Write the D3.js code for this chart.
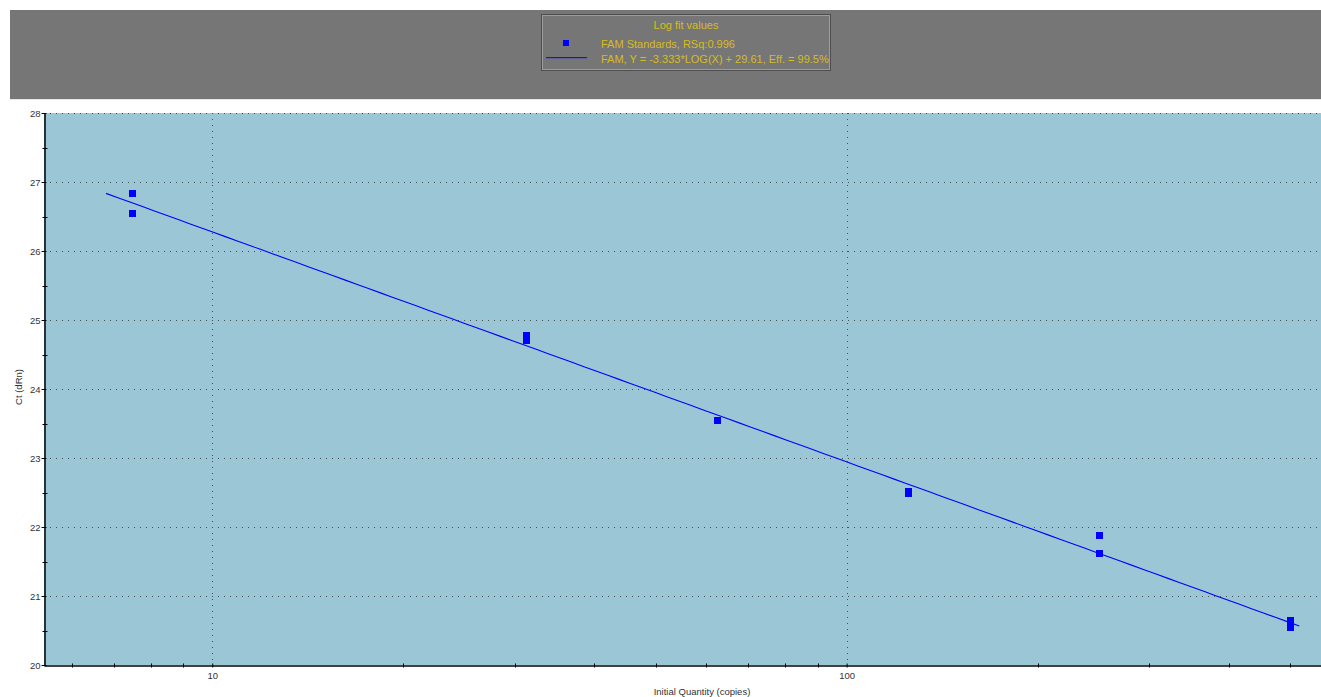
<!DOCTYPE html>
<html>
<head>
<meta charset="utf-8">
<script src="https://cdn.jsdelivr.net/npm/d3@7"></script>
<style>
  html, body { margin: 0; padding: 0; background: #ffffff; }
  svg { display: block; font-family: "Liberation Sans", Arial, sans-serif; }
</style>
</head>
<body>
<svg id="chart" width="1321" height="697"></svg>
<script>
// Standard curve: initial quantity (copies) vs. Ct
const quantities = [7.5, 7.5, 31.25, 31.25, 62.5, 125, 125, 250, 250, 500, 500];
const ctValues   = [26.84, 26.54, 24.78, 24.70, 23.55, 22.51, 22.48, 21.87, 21.61, 20.65, 20.55];

// Log fit: Y = slope*LOG(X) + intercept
const fitSlope = -3.333;
const fitIntercept = 29.61;
const fitRange = [6.8, 517];

const xDomain = [5.43, 559.5];
const yDomain = [20, 28];
const yTicks = [20, 21, 22, 23, 24, 25, 26, 27, 28];
const yMinorTicks = [20.5, 21.5, 22.5, 23.5, 24.5, 25.5, 26.5, 27.5];
const xLabelTicks = [10, 100];
const xMinorTicks = [6, 7, 8, 9, 20, 30, 40, 50, 60, 70, 80, 90, 200, 300, 400, 500];

const legendTitle = "Log fit values";
const legendSeries = "FAM Standards, RSq:0.996";
const legendFit = "FAM, Y = -3.333*LOG(X) + 29.61, Eff. = 99.5%";

const svg = d3.select("#chart");
const W = 1321;

const plot = { left: 44, top: 113, right: 1321, bottom: 665 };

const x = d3.scaleLog().domain(xDomain).range([plot.left, plot.right]);
const y = d3.scaleLinear().domain(yDomain).range([plot.bottom, plot.top]);

// Header band
svg.append("rect").attr("x", 10).attr("y", 10).attr("width", W - 10).attr("height", 89)
  .attr("fill", "#767676");
svg.append("line").attr("x1", 10).attr("x2", W).attr("y1", 99.5).attr("y2", 99.5)
  .attr("stroke", "#e8e8e8").attr("stroke-width", 1);

// Legend box
const lg = svg.append("g");
lg.append("rect").attr("x", 541.5).attr("y", 14.5).attr("width", 289).attr("height", 56)
  .attr("fill", "#767676").attr("stroke", "#4e4e4e");
lg.append("rect").attr("x", 542.5).attr("y", 15.5).attr("width", 287).attr("height", 54)
  .attr("fill", "none").attr("stroke", "#9c9c9c");
lg.append("text").attr("x", 686).attr("y", 29).attr("text-anchor", "middle")
  .attr("font-size", 11).attr("fill", "#d6bd1a").text(legendTitle);
lg.append("rect").attr("x", 563).attr("y", 40).attr("width", 6).attr("height", 6).attr("fill", "#0000ff");
lg.append("rect").attr("x", 546).attr("y", 57).attr("width", 41).attr("height", 1.2)
  .attr("fill", "#1010ff");
lg.append("text").attr("x", 601).attr("y", 47.5).attr("font-size", 11).attr("fill", "#d6bd1a").text(legendSeries);
lg.append("text").attr("x", 601).attr("y", 63).attr("font-size", 11).attr("fill", "#d6bd1a").text(legendFit);

// Plot background
svg.append("rect").attr("x", plot.left).attr("y", plot.top)
  .attr("width", plot.right - plot.left).attr("height", plot.bottom - plot.top)
  .attr("fill", "#9ac6d5");

// Dotted grid
const grid = svg.append("g").attr("stroke", "#333").attr("stroke-width", 1)
  .attr("stroke-dasharray", "1,5").attr("opacity", 0.8);
yTicks.filter(v => v > yDomain[0]).forEach(v => {
  grid.append("line").attr("x1", plot.left).attr("x2", plot.right)
    .attr("y1", Math.round(y(v)) + 0.5).attr("y2", Math.round(y(v)) + 0.5);
});
xLabelTicks.forEach(v => {
  grid.append("line").attr("x1", Math.round(x(v)) + 0.5).attr("x2", Math.round(x(v)) + 0.5)
    .attr("y1", plot.top).attr("y2", plot.bottom);
});

// Fit line
const fitPts = d3.range(0, 101).map(i => {
  const lx = Math.log10(fitRange[0]) + i / 100 * (Math.log10(fitRange[1]) - Math.log10(fitRange[0]));
  const q = Math.pow(10, lx);
  return [q, fitSlope * Math.log10(q) + fitIntercept];
});
svg.append("path").datum(fitPts)
  .attr("d", d3.line().x(d => x(d[0])).y(d => y(d[1])))
  .attr("fill", "none").attr("stroke", "#0000ff").attr("stroke-width", 1.1);

// Standards
const S = 7;
svg.append("g").selectAll("rect").data(quantities.map((q, i) => [q, ctValues[i]]))
  .join("rect")
  .attr("x", d => Math.round(x(d[0]) - S / 2))
  .attr("y", d => Math.round(y(d[1]) - S / 2))
  .attr("width", S).attr("height", S)
  .attr("fill", "#0000ff");

// Y axis
const yAxis = svg.append("g").attr("transform", `translate(${plot.left + 0.5},0)`);
yAxis.call(d3.axisLeft(y).tickValues(yTicks).tickSize(3).tickSizeOuter(0).tickFormat(d3.format("d")));
yAxis.select(".domain").attr("stroke", "#000").attr("stroke-width", 1.5);
yAxis.selectAll(".tick line").attr("stroke", "#000").attr("x2", 2).attr("x1", -3);
yAxis.selectAll(".tick text").attr("x", -4).attr("font-size", 9.5).attr("fill", "#333")
  .attr("font-family", "Liberation Sans, Arial, sans-serif");
yAxis.selectAll(".minor").data(yMinorTicks).join("line").attr("class", "minor")
  .attr("x1", -2).attr("x2", 3)
  .attr("y1", d => Math.round(y(d)) + 0.5).attr("y2", d => Math.round(y(d)) + 0.5)
  .attr("stroke", "#000");

// X axis
const xAxis = svg.append("g").attr("transform", `translate(0,${plot.bottom + 0.5})`);
xAxis.call(d3.axisBottom(x).tickValues(xLabelTicks).tickSize(3).tickSizeOuter(0).tickFormat(d3.format("d")));
xAxis.select(".domain").attr("stroke", "#000").attr("stroke-width", 1.5);
xAxis.selectAll(".tick line").attr("stroke", "#000").attr("y1", -2).attr("y2", 2);
xAxis.selectAll(".tick text").attr("y", 7).attr("font-size", 9.5).attr("fill", "#333")
  .attr("font-family", "Liberation Sans, Arial, sans-serif");
xAxis.selectAll(".minor").data(xMinorTicks).join("line").attr("class", "minor")
  .attr("x1", d => Math.round(x(d)) + 0.5).attr("x2", d => Math.round(x(d)) + 0.5)
  .attr("y1", -2).attr("y2", 2).attr("stroke", "#000");

// Axis titles
svg.append("text").attr("x", 702).attr("y", 695).attr("text-anchor", "middle")
  .attr("font-size", 9.5).attr("fill", "#333").text("Initial Quantity (copies)");
svg.append("text").attr("transform", "translate(22,387) rotate(-90)").attr("text-anchor", "middle")
  .attr("font-size", 9.5).attr("fill", "#333").text("Ct (dRn)");
</script>
</body>
</html>
